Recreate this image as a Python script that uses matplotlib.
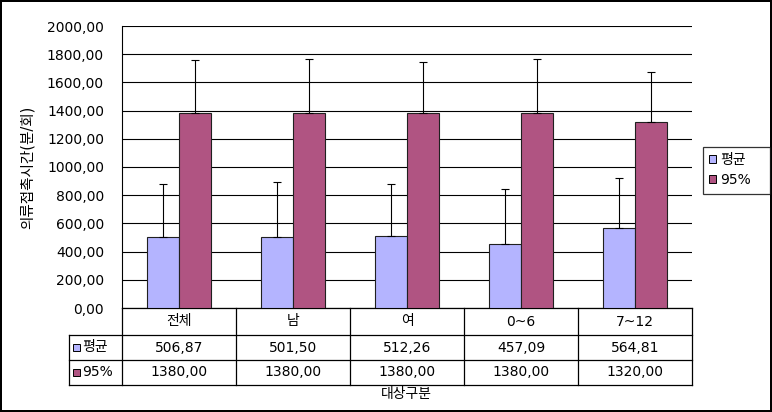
import numpy as np
import matplotlib
matplotlib.use("Agg")
from matplotlib import pyplot as plt
from matplotlib import transforms
from matplotlib.patches import Patch, Rectangle
from matplotlib.ticker import FuncFormatter, MultipleLocator

plt.rcParams['font.family'] = ['DejaVu Sans', 'Noto Sans CJK KR']

# data
categories = ['전체', '남', '여', '0~6', '7~12']
series_names = ['평균', '95%']
mean_vals = [506.87, 501.50, 512.26, 457.09, 564.81]
p95_vals = [1380.00, 1380.00, 1380.00, 1380.00, 1320.00]
mean_err = [374, 390, 367, 385, 355]   # upper error only
p95_err = [377, 384, 365, 384, 354]
colors = ['#B4B4FF', '#B05482']

W, H = 772, 412
fig = plt.figure(figsize=(W / 100, H / 100), dpi=100)
fig.patch.set_edgecolor('black')
fig.patch.set_linewidth(1.5)

def fx(px):
    return px / W

def fy(py):
    return (H - py) / H

# plot area (pixels): x 122..692, y 26..308
ax = fig.add_axes([fx(122), fy(308), fx(692) - fx(122), (308 - 26) / H])

x = np.arange(len(categories))
bw = 0.285
ekw = dict(ecolor='black', elinewidth=0.8, capsize=3, capthick=0.8)
ax.bar(x - bw / 2, mean_vals, bw, color=colors[0], edgecolor='#202020', linewidth=0.8, zorder=3,
       yerr=[np.zeros(len(x)), mean_err], error_kw=ekw)
ax.bar(x + bw / 2, p95_vals, bw, color=colors[1], edgecolor='#202020', linewidth=0.8, zorder=3,
       yerr=[np.zeros(len(x)), p95_err], error_kw=ekw)

ax.set_xlim(-0.5, len(x) - 0.5)
ax.set_ylim(0, 2000)
ax.yaxis.set_major_locator(MultipleLocator(200))
ax.yaxis.set_major_formatter(FuncFormatter(lambda v, p: f"{v:.2f}".replace('.', ',')))
ax.grid(axis='y', color='black', linewidth=0.8, zorder=0)
ax.set_xticks([])
ax.tick_params(axis='y', length=0, pad=13, labelsize=10)
for s in ['top', 'right', 'bottom']:
    ax.spines[s].set_visible(False)
ax.spines['left'].set_linewidth(0.8)

pw = 570.0
ph = 282.0
ax.set_ylabel('의류접촉시간(분/회)', fontsize=10.5)
ax.yaxis.set_label_coords((35 - 122) / pw, 0.5)

# data table under the plot (x in data units, y in axes units)
def v(py):
    return (308 - py) / ph

trans = transforms.blended_transform_factory(ax.transData, ax.transAxes)
lkw = dict(color='black', linewidth=0.9, clip_on=False)
left = -0.5 - 53 / 114.0
right = len(x) - 0.5
ax.plot([-0.5, right], [v(308), v(308)], transform=trans, **lkw)
for py in [335, 360, 385]:
    ax.plot([left, right], [v(py), v(py)], transform=trans, **lkw)
ax.plot([left, left], [v(335), v(385)], transform=trans, **lkw)
for b in np.arange(len(x) + 1) - 0.5:
    ax.plot([b, b], [v(308), v(385)], transform=trans, **lkw)

for i, c in enumerate(categories):
    ax.text(i, v(321.5), c, transform=trans, ha='center', va='center', fontsize=10)
for r, vals in enumerate([mean_vals, p95_vals]):
    yc = v(347.5 + 25 * r)
    for i, val in enumerate(vals):
        ax.text(i, yc, f"{val:.2f}".replace('.', ','), transform=trans,
                ha='center', va='center', fontsize=10)

# row labels with colour keys
row_centers = [347.5, 372.5]
for i, name in enumerate(series_names):
    yc = row_centers[i]
    fig.patches.append(Rectangle((fx(73), fy(yc + 3.5)), 7 / W, 7 / H, transform=fig.transFigure,
                                 facecolor=colors[i], edgecolor='black', linewidth=0.7, zorder=5))
    fig.text(fx(82), fy(yc), name, fontsize=10, va='center', ha='left', zorder=5)

fig.text(fx(406), fy(394), '대상구분', fontsize=10, ha='center', va='center')

handles = [Patch(facecolor=colors[i], edgecolor='black', linewidth=0.7) for i in range(2)]
leg = fig.legend(handles, series_names, loc='upper left',
                 bbox_to_anchor=(fx(703), fy(188), 67 / W, 41 / H), mode='expand',
                 fontsize=10, frameon=True, fancybox=False, handlelength=0.5, handleheight=0.5,
                 handletextpad=0.3, borderpad=0.45, labelspacing=0.44, borderaxespad=0)
leg.get_frame().set_edgecolor('black')
leg.get_frame().set_linewidth(0.9)

fig.savefig('out.png', dpi=100)
